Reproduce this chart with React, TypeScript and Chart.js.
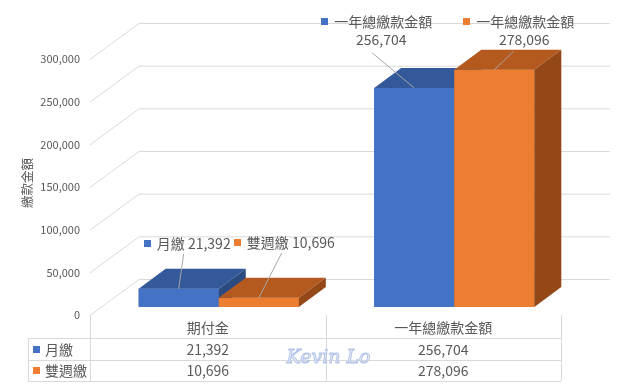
import React, { useEffect, useRef } from 'react';
import { Chart, registerables } from 'chart.js';

Chart.register(...registerables);

// ---- data ----
const categories = ['期付金', '一年總繳款金額'];
const seriesNames = ['月繳', '雙週繳'];
const monthlyValues = [21392, 256704];
const biweeklyValues = [10696, 278096];
const yTicks = [0, 50000, 100000, 150000, 200000, 250000, 300000];
const yAxisTitle = '繳款金額';
const watermarkText = 'Kevin Lo';

// ---- styles / layout ----
const FRONT = ['#4472C4', '#ED7D31'];
const TOPC = ['#34599A', '#B45A1F'];
const SIDEC = ['#2B4A80', '#944818'];
const TEXT = '#595959';
const GRID = '#d9d9d9';
const FONT = '"Noto Sans CJK TC", "Noto Sans", sans-serif';
const DEPTH = { dx: 27, dy: -20 };
const WALL = { dx: 38, dy: -28 };
const FRONTP = { dx: -11, dy: 8 };
// label placement relative to bar top-front centre [dataset][category]
const LABEL_POS = [
  [
    { l1: [8.5, -45], lead: [5, -35] },
    { l1: [-37.5, -66], l2: [-33, -48], lead: [-42, -35] },
  ],
  [
    { l1: [25.5, -55], lead: [23, -45] },
    { l1: [24.5, -48], l2: [30, -30], lead: [19, -18] },
  ],
];

const fmt = (v: number) => v.toLocaleString('en-US');

function keyText(ctx: CanvasRenderingContext2D, color: string, text: string, cx: number, cy: number) {
  const w = ctx.measureText(text).width;
  const total = 7 + 6 + w;
  const sx = cx - total / 2;
  ctx.fillStyle = color;
  ctx.fillRect(Math.round(sx), Math.round(cy - 3.5), 7, 7);
  ctx.fillStyle = TEXT;
  ctx.textAlign = 'left';
  ctx.textBaseline = 'middle';
  ctx.fillText(text, sx + 13, cy);
}

const threeD = {
  id: 'threeD',
  beforeDatasetsDraw(chart: any) {
    const ctx: CanvasRenderingContext2D = chart.ctx;
    const ys = chart.scales.y;
    const area = chart.chartArea;
    ctx.save();
    ctx.strokeStyle = GRID;
    ctx.lineWidth = 1;
    for (const v of yTicks) {
      const py = ys.getPixelForValue(v);
      ctx.beginPath();
      ctx.moveTo(area.left + FRONTP.dx, py + FRONTP.dy + 0.5);
      ctx.lineTo(area.left + WALL.dx, py + WALL.dy + 0.5);
      ctx.lineTo(area.right + WALL.dx, py + WALL.dy + 0.5);
      ctx.stroke();
      ctx.fillStyle = TEXT;
      ctx.font = `11px ${FONT}`;
      ctx.textAlign = 'right';
      ctx.textBaseline = 'middle';
      ctx.fillText(fmt(v), area.left + FRONTP.dx - 10, py + FRONTP.dy);
    }
    // axis title
    ctx.save();
    ctx.translate(27, (area.top + area.bottom) / 2 + 4);
    ctx.rotate(-Math.PI / 2);
    ctx.font = `12.5px ${FONT}`;
    ctx.textAlign = 'center';
    ctx.textBaseline = 'middle';
    ctx.fillStyle = TEXT;
    ctx.fillText(yAxisTitle, 0, 0);
    ctx.restore();
    ctx.restore();
  },
  afterDatasetsDraw(chart: any) {
    const ctx: CanvasRenderingContext2D = chart.ctx;
    ctx.save();
    const n = chart.data.labels.length;
    for (let i = 0; i < n; i++) {
      for (let d = 0; d < chart.data.datasets.length; d++) {
        const el = chart.getDatasetMeta(d).data[i];
        const p = el.getProps(['x', 'y', 'base', 'width'], true);
        const l = p.x - p.width / 2;
        const r = p.x + p.width / 2;
        const t = p.y;
        const b = p.base;
        ctx.fillStyle = FRONT[d];
        ctx.fillRect(l, t, r - l, b - t);
        ctx.fillStyle = TOPC[d];
        ctx.beginPath();
        ctx.moveTo(l, t);
        ctx.lineTo(r, t);
        ctx.lineTo(r + DEPTH.dx, t + DEPTH.dy);
        ctx.lineTo(l + DEPTH.dx, t + DEPTH.dy);
        ctx.closePath();
        ctx.fill();
        ctx.fillStyle = SIDEC[d];
        ctx.beginPath();
        ctx.moveTo(r, t);
        ctx.lineTo(r + DEPTH.dx, t + DEPTH.dy);
        ctx.lineTo(r + DEPTH.dx, b + DEPTH.dy);
        ctx.lineTo(r, b);
        ctx.closePath();
        ctx.fill();
      }
    }
    ctx.restore();
  },
  afterDraw(chart: any) {
    const ctx: CanvasRenderingContext2D = chart.ctx;
    const xs = chart.scales.x;
    const ys = chart.scales.y;
    const area = chart.chartArea;
    const n = categories.length;
    ctx.save();
    // data labels with leader lines
    for (let d = 0; d < chart.data.datasets.length; d++) {
      for (let i = 0; i < n; i++) {
        const el = chart.getDatasetMeta(d).data[i];
        const p = el.getProps(['x', 'y'], true);
        const pos = LABEL_POS[d][i];
        const val = chart.data.datasets[d].data[i] as number;
        ctx.strokeStyle = '#a6a6a6';
        ctx.lineWidth = 1;
        ctx.beginPath();
        ctx.moveTo(p.x + pos.lead[0], p.y + pos.lead[1]);
        ctx.lineTo(p.x, p.y);
        ctx.stroke();
        ctx.font = `14px ${FONT}`;
        if (pos.l2) {
          keyText(ctx, FRONT[d], categories[i], p.x + pos.l1[0], p.y + pos.l1[1]);
          ctx.textAlign = 'center';
          ctx.fillStyle = TEXT;
          ctx.fillText(fmt(val), p.x + pos.l2[0], p.y + pos.l2[1]);
        } else {
          keyText(ctx, FRONT[d], `${seriesNames[d]} ${fmt(val)}`, p.x + pos.l1[0], p.y + pos.l1[1]);
        }
      }
    }
    // data table
    const catW = (area.right - area.left) / n;
    const x0 = area.left + FRONTP.dx;
    const yTop = ys.getPixelForValue(0) + FRONTP.dy;
    const rowH = 21.5;
    const hdrBottom = yTop + 23;
    const tblLeft = 28;
    const tblRight = x0 + catW * n;
    ctx.strokeStyle = GRID;
    ctx.lineWidth = 1;
    ctx.beginPath();
    for (let k = 0; k <= n; k++) {
      const xx = Math.round(x0 + catW * k) + 0.5;
      ctx.moveTo(xx, yTop);
      ctx.lineTo(xx, hdrBottom + rowH * 2);
    }
    ctx.moveTo(tblLeft + 0.5, hdrBottom);
    ctx.lineTo(tblLeft + 0.5, hdrBottom + rowH * 2);
    for (let r = 0; r <= 2; r++) {
      const yy = Math.round(hdrBottom + rowH * r) + 0.5;
      ctx.moveTo(tblLeft, yy);
      ctx.lineTo(tblRight, yy);
    }
    ctx.stroke();
    ctx.fillStyle = TEXT;
    ctx.font = `14px ${FONT}`;
    ctx.textAlign = 'center';
    ctx.textBaseline = 'middle';
    for (let i = 0; i < n; i++) {
      const cx = xs.getPixelForValue(i) + FRONTP.dx;
      ctx.fillStyle = TEXT;
      ctx.fillText(categories[i], cx, yTop + 13);
      for (let d = 0; d < chart.data.datasets.length; d++) {
        const val = chart.data.datasets[d].data[i] as number;
        ctx.fillText(fmt(val), cx, hdrBottom + rowH * d + rowH / 2 + 0.5);
      }
    }
    for (let d = 0; d < chart.data.datasets.length; d++) {
      const cy = hdrBottom + rowH * d + rowH / 2 + 0.5;
      ctx.fillStyle = FRONT[d];
      ctx.fillRect(33, Math.round(cy - 3.5), 7, 7);
      ctx.fillStyle = TEXT;
      ctx.textAlign = 'left';
      ctx.fillText(seriesNames[d], 45, cy);
    }
    // watermark
    ctx.font = `italic 19px "DejaVu Serif", serif`;
    ctx.textAlign = 'center';
    ctx.textBaseline = 'middle';
    ctx.fillStyle = 'rgba(238,242,250,0.95)';
    ctx.strokeStyle = '#b3c4e8';
    ctx.lineWidth = 1;
    const wx = x0 + catW + 3;
    ctx.fillText(watermarkText, wx, hdrBottom + rowH - 1);
    ctx.strokeText(watermarkText, wx, hdrBottom + rowH - 1);
    ctx.restore();
  },
};

export default function App() {
  const ref = useRef<HTMLCanvasElement | null>(null);
  useEffect(() => {
    if (!ref.current) return;
    const chart = new Chart(ref.current, {
      type: 'bar',
      data: {
        labels: categories,
        datasets: [
          { label: seriesNames[0], data: monthlyValues, backgroundColor: FRONT[0] },
          { label: seriesNames[1], data: biweeklyValues, backgroundColor: FRONT[1] },
        ],
      },
      options: {
        responsive: false,
        animation: false,
        devicePixelRatio: 1,
        layout: { padding: { left: 101, right: 67, top: 51, bottom: 81 } },
        plugins: { legend: { display: false }, tooltip: { enabled: false }, title: { display: false } },
        datasets: { bar: { categoryPercentage: 0.68, barPercentage: 1 } },
        scales: {
          x: { display: false },
          y: { display: false, min: 0, max: 300000, ticks: { stepSize: 50000 } },
        },
      },
      plugins: [threeD],
    });
    return () => chart.destroy();
  }, []);
  return (
    <div style={{ position: 'absolute', left: 0, top: 0, width: 639, height: 388, background: '#fff' }}>
      <canvas ref={ref} width={639} height={388} />
    </div>
  );
}
